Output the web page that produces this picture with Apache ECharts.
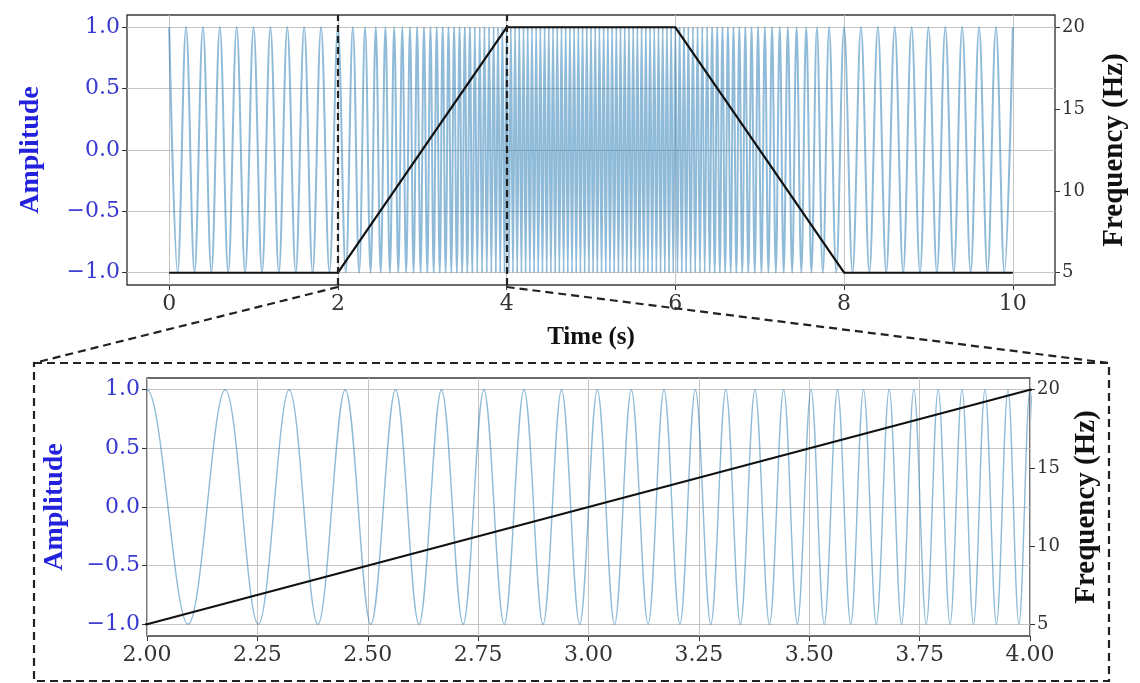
<!DOCTYPE html>
<html><head><meta charset="utf-8">
<script src="https://cdn.jsdelivr.net/npm/echarts@6/dist/echarts.min.js"></script>
<style>html,body{margin:0;padding:0;background:#fff}#c{width:1140px;height:683px}</style>
</head><body><div id="c"></div>
<script>
// ---- data ----
// times (s) of successive peaks/troughs of the signal, alternating peak (+1) then trough (-1)
const extremaSeg0to2 = [0,0.1,0.2,0.3,0.4,0.5,0.6,0.7,0.8,0.9,1.0,1.1,1.2,1.3,1.4,1.5,1.6,1.7,1.8,1.9,2.0];
const extremaSeg2to4 = [2.093,2.177,2.252,2.322,2.387,2.449,2.507,2.563,2.616,2.667,2.716,2.763,2.809,2.854,2.897,2.939,2.98,3.02,3.059,3.097,3.135,3.171,3.207,3.242,3.277,3.311,3.344,3.377,3.41,3.442,3.473,3.504,3.534,3.564,3.594,3.623,3.652,3.681,3.709,3.737,3.765,3.792,3.819,3.846,3.872,3.898,3.924,3.95,3.975,4.0];
const extremaSeg4to6 = [4.025,4.05,4.075,4.1,4.125,4.15,4.175,4.2,4.225,4.25,4.275,4.3,4.325,4.35,4.375,4.4,4.425,4.45,4.475,4.5,4.525,4.55,4.575,4.6,4.625,4.65,4.675,4.7,4.725,4.75,4.775,4.8,4.825,4.85,4.875,4.9,4.925,4.95,4.975,5.0,5.025,5.05,5.075,5.1,5.125,5.15,5.175,5.2,5.225,5.25,5.275,5.3,5.325,5.35,5.375,5.4,5.425,5.45,5.475,5.5,5.525,5.55,5.575,5.6,5.625,5.65,5.675,5.7,5.725,5.75,5.775,5.8,5.825,5.85,5.875,5.9,5.925,5.95,5.975,6.0];
const extremaSeg6to8 = [6.025,6.05,6.076,6.102,6.128,6.154,6.181,6.208,6.235,6.263,6.291,6.319,6.348,6.377,6.406,6.436,6.466,6.496,6.527,6.558,6.59,6.623,6.656,6.689,6.723,6.758,6.793,6.829,6.865,6.903,6.941,6.98,7.02,7.061,7.103,7.146,7.191,7.237,7.284,7.333,7.384,7.437,7.493,7.551,7.613,7.678,7.748,7.823,7.907,8.0];
const extremaSeg8to10 = [8.1,8.2,8.3,8.4,8.5,8.6,8.7,8.8,8.9,9.0,9.1,9.2,9.3,9.4,9.5,9.6,9.7,9.8,9.9,10.0];
const extremaLevels = [1, -1];
// frequency profile (Hz)
const freqTimes = [0, 2, 4, 6, 8, 10];
const freqValues = [5, 5, 20, 20, 5, 5];
// ticks
const topTimeTicks = [0, 2, 4, 6, 8, 10];
const ampTicks = [-1, -0.5, 0, 0.5, 1];
const freqTicks = [5, 10, 15, 20];
const zoomWindow = [2, 4];

// ---- build ----
const allTimes = extremaSeg0to2.concat(extremaSeg2to4, extremaSeg4to6, extremaSeg6to8, extremaSeg8to10);
const signalData = allTimes.map((t, i) => [t, extremaLevels[i % 2]]);
const freqData = freqTimes.map((t, i) => [t, freqValues[i]]);

const SIG = 'rgba(31,119,180,0.5)';
const GRIDC = '#c4c4c4';
const TICKF = 'DejaVu Serif';
const NAMEF = 'Liberation Serif';
const fmtAmp = v => (v < 0 ? '\u2212' : '') + Math.abs(v).toFixed(1);

function xAx(grid, extra) {
  return Object.assign({
    type: 'value', gridIndex: grid,
    axisLine: { show: false, onZero: false },
    axisTick: { show: true, length: 5, lineStyle: { color: '#333', width: 1 } },
    axisLabel: { color: '#333', fontFamily: TICKF, fontSize: 22, margin: 8 },
    splitLine: { show: true, lineStyle: { color: GRIDC, width: 1 } }
  }, extra);
}
function ampAx(grid, nameGap) {
  return {
    type: 'value', gridIndex: grid, min: -1.1, max: 1.1,
    name: 'Amplitude', nameLocation: 'middle', nameGap: nameGap, nameRotate: 90,
    nameTextStyle: { color: '#2222dd', fontFamily: NAMEF, fontWeight: 'bold', fontSize: 28 },
    axisLine: { show: false, onZero: false },
    axisTick: { show: true, length: 5, customValues: ampTicks, lineStyle: { color: '#333' } },
    axisLabel: { customValues: ampTicks, formatter: fmtAmp, color: '#3a3ad0', fontFamily: TICKF, fontSize: 22, margin: 7 },
    splitLine: { show: true, lineStyle: { color: GRIDC, width: 1 } }
  };
}
function freqAx(grid, nameGap) {
  return {
    type: 'value', gridIndex: grid, position: 'right', min: 4.25, max: 20.75,
    name: 'Frequency (Hz)', nameLocation: 'middle', nameGap: nameGap, nameRotate: 90,
    nameTextStyle: { color: '#111', fontFamily: NAMEF, fontWeight: 'bold', fontSize: 29 },
    axisLine: { show: false, onZero: false },
    axisTick: { show: true, length: 5, customValues: freqTicks, lineStyle: { color: '#333' } },
    axisLabel: { customValues: freqTicks, color: '#333', fontFamily: TICKF, fontSize: 18, margin: 7 },
    splitLine: { show: false }
  };
}

const chart = echarts.init(document.getElementById('c'), null, { renderer: 'canvas' });
chart.setOption({
  animation: false,
  backgroundColor: '#fff',
  grid: [
    { left: 127, top: 15, width: 928, height: 270, show: true, borderColor: '#3a3a3a', borderWidth: 1.4, backgroundColor: 'transparent' },
    { left: 147, top: 378, width: 883, height: 258, show: true, borderColor: '#3a3a3a', borderWidth: 1.4, backgroundColor: 'transparent' }
  ],
  xAxis: [
    xAx(0, {
      min: -0.5, max: 10.5,
      name: 'Time (s)', nameLocation: 'middle', nameGap: 40,
      nameTextStyle: { color: '#111', fontFamily: NAMEF, fontWeight: 'bold', fontSize: 25 },
      axisTick: { show: true, length: 5, customValues: topTimeTicks, lineStyle: { color: '#333' } },
      axisLabel: { customValues: topTimeTicks, color: '#333', fontFamily: TICKF, fontSize: 22, margin: 8 }
    }),
    xAx(1, { min: zoomWindow[0], max: zoomWindow[1], interval: 0.25,
      axisLabel: { formatter: v => v.toFixed(2), color: '#333', fontFamily: TICKF, fontSize: 22, margin: 8 } })
  ],
  yAxis: [ampAx(0, 82), freqAx(0, 45), ampAx(1, 78), freqAx(1, 42)],
  series: [
    { type: 'line', xAxisIndex: 0, yAxisIndex: 0, data: signalData, smooth: 0.36, showSymbol: false, z: 2,
      lineStyle: { color: SIG, width: 2.0 },
      markLine: { silent: true, symbol: 'none', label: { show: false },
        lineStyle: { color: '#222', type: [7, 4], width: 2.2 },
        data: zoomWindow.map(v => ({ xAxis: v })) } },
    { type: 'line', xAxisIndex: 0, yAxisIndex: 1, data: freqData, showSymbol: false, z: 3,
      lineStyle: { color: '#111', width: 2.2 } },
    { type: 'line', xAxisIndex: 1, yAxisIndex: 2, data: signalData, smooth: 0.36, showSymbol: false, z: 2,
      lineStyle: { color: SIG, width: 1.4 } },
    { type: 'line', xAxisIndex: 1, yAxisIndex: 3, data: freqData, showSymbol: false, z: 3,
      lineStyle: { color: '#111', width: 2.2 } }
  ]
});

// zoom-window connector decorations
const pL = chart.convertToPixel({ xAxisIndex: 0, yAxisIndex: 0 }, [zoomWindow[0], -1.1]);
const pR = chart.convertToPixel({ xAxisIndex: 0, yAxisIndex: 0 }, [zoomWindow[1], -1.1]);
const box = { x: 34, y: 363, w: 1075, h: 318 };
const dash = { stroke: '#222', lineWidth: 2.2, lineDash: [8, 5], fill: null };
chart.setOption({
  graphic: [
    { type: 'rect', shape: { x: box.x, y: box.y, width: box.w, height: box.h }, style: dash, silent: true },
    { type: 'line', shape: { x1: pL[0], y1: pL[1] + 2, x2: box.x, y2: box.y }, style: dash, silent: true },
    { type: 'line', shape: { x1: pR[0], y1: pR[1] + 2, x2: box.x + box.w, y2: box.y }, style: dash, silent: true }
  ]
});
</script>
</body></html>
